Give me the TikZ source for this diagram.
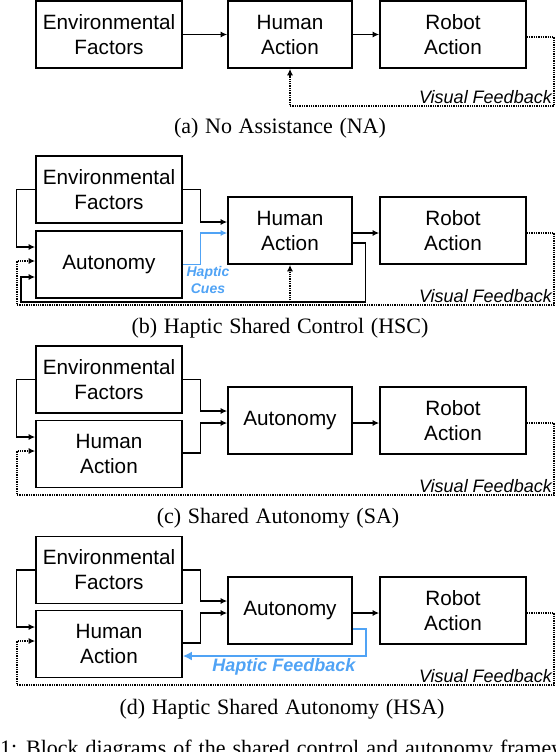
\documentclass[tikz,border=0pt]{standalone}
\usepackage{fontspec}
\setmainfont{Liberation Serif}
\newfontfamily\hvfont{Liberation Sans}
\usetikzlibrary{arrows.meta}
\definecolor{hblue}{RGB}{80,163,245}
\begin{document}
\begin{tikzpicture}[x=1pt,y=-1pt,
  blk/.style={draw,line width=1.6pt,minimum height=67pt,inner sep=0pt,align=center,
    font=\hvfont\fontsize{20.7}{25}\selectfont},
  wide/.style={blk,minimum width=146pt},
  narrow/.style={blk,minimum width=124pt},
  arr/.style={line width=1.3pt,-{Latex[length=6.5pt,width=6pt]}},
  dot/.style={line width=1.3pt,dash pattern=on 1.3pt off 1pt},
  vis/.style={font=\hvfont\itshape\fontsize{18}{20}\selectfont,anchor=base east,inner sep=0pt},
  subcap/.style={font=\fontsize{22}{24}\selectfont,inner sep=0pt},
  hap/.style={text=hblue,font=\hvfont\bfseries\itshape\fontsize{14}{17}\selectfont,align=center,inner sep=0pt},
  barr/.style={draw=hblue,line width=1.3pt,-{Latex[length=6.5pt,width=6pt]}},
  bbarr/.style={draw=hblue,line width=2.6pt,-{Latex[length=9pt,width=9pt]}}
]
\useasboundingbox (0,0) rectangle (556,752);
\clip (0,0) rectangle (556,752);

% ---------------- (a)
\node[wide]   (enva) at (109,34.5) {Environmental\\Factors};
\node[narrow] (huma) at (290,34.5) {Human\\Action};
\node[wide]   (roba) at (453,34.5) {Robot\\Action};
\draw[arr] (enva) -- (huma);
\draw[arr] (huma.east) -- (roba.west);
\coordinate (ca) at (554,106);
\draw[dot,-{Latex[length=6.5pt,width=6pt]}] ([yshift=-2.5pt]roba.east) -| (ca) -| (huma.south);
\node[vis] (visa) at (552,103) {Visual Feedback};
\node[subcap] (capa) at (280,128) {\spaceskip=6.7pt (a) No Assistance (NA)};

% ---------------- (b)
\node[wide]   (envb) at (109,189.5) {Environmental\\Factors};
\node[wide]   (autb) at (109,264.5) {Autonomy};
\node[narrow] (humb) at (290,230.5) {Human\\Action};
\node[wide]   (robb) at (453,230.5) {Robot\\Action};
\draw[arr] (envb.east) -- ++(18,0) |- ([yshift=8.5pt]humb.west);
\draw[barr] (autb.east) -- ++(18,0) |- ([yshift=-2.5pt]humb.west);
\draw[arr] ([yshift=-2.5pt]humb.east) -- ([yshift=-2.5pt]robb.west);
\draw[arr] (envb.west) -- ++(-19,0) |- ([yshift=17.5pt]autb.west);
\coordinate (cb1) at (554,305);
\coordinate (cb2) at (17,305);
\draw[dot,-{Latex[length=6.5pt,width=6pt]}] ([yshift=-2.5pt]robb.east) -| (cb1) -- (cb2) |- ([yshift=3.5pt]autb.west);
\draw[dot,-{Latex[length=6.5pt,width=6pt]}] (humb.south |- cb1) -- (humb.south);
\coordinate (cb3) at (21,302);
\draw[arr] ([yshift=-12.5pt]humb.east) -- ++(13,0) |- (cb3) |- ([yshift=-12.5pt]autb.west);
\node[hap] (hapb) at (208,279.5) {Haptic\\Cues};
\node[vis] (visb) at (552,302) {Visual Feedback};
\node[subcap] (capb) at (280,328) {\spaceskip=6.7pt (b) Haptic Shared Control (HSC)};

% ---------------- (c)
\node[wide]   (envc) at (109,379.5) {Environmental\\Factors};
\node[wide]   (humc) at (109,454) {Human\\Action};
\node[narrow] (autc) at (290,420.5) {Autonomy};
\node[wide]   (robc) at (453,420.5) {Robot\\Action};
\draw[arr] (envc.east) -- ++(18,0) |- ([yshift=9.5pt]autc.west);
\draw[arr] ([yshift=1pt]humc.east) -- ++(18,0) |- ([yshift=-2.5pt]autc.west);
\draw[arr] (envc.west) -- ++(-19,0) |- ([yshift=17pt]humc.west);
\draw[arr] ([yshift=-2.5pt]autc.east) -- ([yshift=-2.5pt]robc.west);
\coordinate (cc1) at (554,495);
\coordinate (cc2) at (17,495);
\draw[dot,-{Latex[length=6.5pt,width=6pt]}] ([yshift=-2.5pt]robc.east) -| (cc1) -- (cc2) |- ([yshift=3pt]humc.west);
\node[vis] (visc) at (552,492) {Visual Feedback};
\node[subcap] (capc) at (278,518) {\spaceskip=6.7pt (c) Shared Autonomy (SA)};

% ---------------- (d)
\node[wide]   (envd) at (109,570) {Environmental\\Factors};
\node[wide]   (humd) at (109,644) {Human\\Action};
\node[narrow] (autd) at (290,610.5) {Autonomy};
\node[wide]   (robd) at (453,610.5) {Robot\\Action};
\draw[arr] (envd.east) -- ++(18,0) |- ([yshift=9.5pt]autd.west);
\draw[arr] ([yshift=1pt]humd.east) -- ++(18,0) |- ([yshift=-2.5pt]autd.west);
\draw[arr] (envd.west) -- ++(-19,0) |- ([yshift=17pt]humd.west);
\draw[arr] ([yshift=-2.5pt]autd.east) -- ([yshift=-2.5pt]robd.west);
\coordinate (cd1) at (554,685);
\coordinate (cd2) at (17,685);
\draw[dot,-{Latex[length=6.5pt,width=6pt]}] ([yshift=-2.5pt]robd.east) -| (cd1) -- (cd2) |- ([yshift=3pt]humd.west);
\draw[bbarr] ([yshift=-18.5pt]autd.east) -- ++(13,0) |- ([yshift=-12pt]humd.east);
\node[hap,font=\hvfont\bfseries\itshape\fontsize{18}{20}\selectfont] (hapd) at (284,667) {Haptic Feedback};
\node[vis] (visd) at (552,682) {Visual Feedback};
\node[subcap] (capd) at (282,709) {\spaceskip=6.7pt (d) Haptic Shared Autonomy (HSA)};

% ---------------- caption line, cut by the lower edge as in the reference
\node[font=\fontsize{22}{24}\selectfont,anchor=base west,inner sep=0pt] (figcap) at (0,755)
  {\spaceskip=7pt 1: Block diagrams of the shared control and autonomy frameworks};
\end{tikzpicture}
\end{document}
